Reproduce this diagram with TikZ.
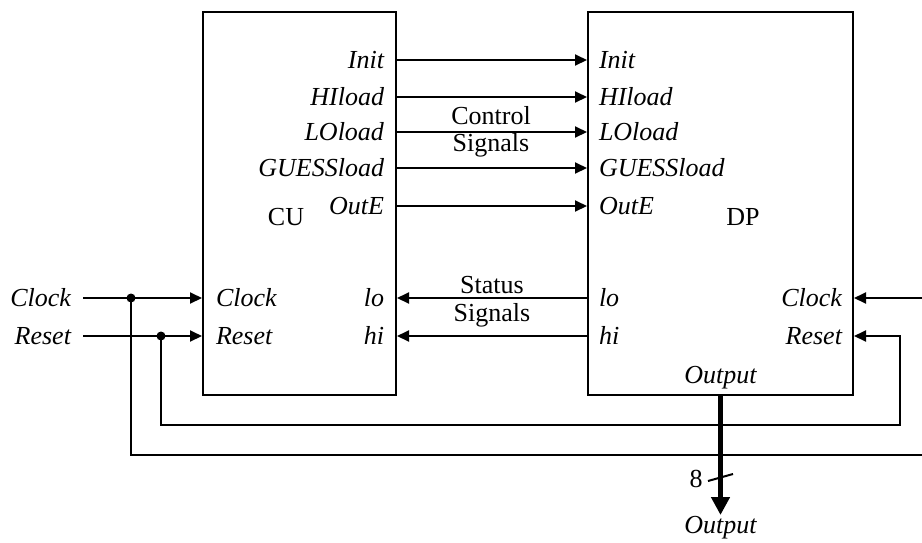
\documentclass[tikz,border=0pt]{standalone}
\usepackage{fontspec}
\setmainfont{Liberation Serif}
\usetikzlibrary{arrows.meta}
\begin{document}
\begin{tikzpicture}[x=1pt,y=-1pt,line width=2pt,
  lbl/.style={font=\fontsize{26}{30}\selectfont\itshape,inner sep=0pt},
  txt/.style={font=\fontsize{26}{30}\selectfont,inner sep=0pt},
  arr/.style={-{Triangle[length=12pt,width=11pt]}},
  blk/.style={draw,line width=2pt,inner sep=0pt,minimum height=383pt}]
\useasboundingbox (0,0) rectangle (922,542);
\clip (0,0) rectangle (922,542);
% blocks
\node[blk,minimum width=193pt] (cu) at (299.5,203.5) {};
\node[blk,minimum width=265pt] (dp) at (720.5,203.5) {};
\node[txt,anchor=base] (cuname) at (286,225) {CU};
\node[txt,anchor=base] (dpname) at (743,225) {DP};
% control signals
\foreach \n/\t/\y in {a/Init/60,b/HIload/97,c/LOload/132,d/GUESSload/168,e/OutE/206}{
  \node[lbl,anchor=base east] (cu\n) at (385,\y+8.5) {\t};
  \node[lbl,anchor=base west] (dp\n) at (598,\y+8.5) {\t};
  \draw[arr] (cu.east |- 0,\y) -- (dp.west |- 0,\y);
}
\node[txt,anchor=base] (ctl1) at (491,124.5) {Control};
\node[txt,anchor=base] (ctl2) at (491,151.5) {Signals};
% status signals
\foreach \n/\t/\y in {lo/lo/298,hi/hi/336}{
  \node[lbl,anchor=base east] (cu\n) at (385,\y+8.5) {\t};
  \node[lbl,anchor=base west] (dp\n) at (598,\y+8.5) {\t};
  \draw[arr] (dp.west |- 0,\y) -- (cu.east |- 0,\y);
}
\node[txt,anchor=base] (st1) at (492,293) {Status};
\node[txt,anchor=base] (st2) at (492,321) {Signals};
% clock and reset
\node[lbl,anchor=base east] (clkL) at (72,306.5) {Clock};
\node[lbl,anchor=base east] (rstL) at (72,344.5) {Reset};
\node[lbl,anchor=base west] (cuclk) at (215,306.5) {Clock};
\node[lbl,anchor=base west] (curst) at (215,344.5) {Reset};
\node[lbl,anchor=base east] (dpclk) at (843,306.5) {Clock};
\node[lbl,anchor=base east] (dprst) at (843,344.5) {Reset};
\coordinate (clkin) at (83,298);
\coordinate (rstin) at (83,336);
\coordinate (clkdot) at (131,298);
\coordinate (rstdot) at (161,336);
\draw[arr] (clkin) -- (cu.west |- clkin);
\draw[arr] (rstin) -- (cu.west |- rstin);
\fill (clkdot) circle (4.5pt);
\fill (rstdot) circle (4.5pt);
\draw[arr] (clkdot) |- (945,455) |- (dp.east |- clkin);
\draw[arr] (rstdot) |- (900,425) |- (dp.east |- rstin);
% output bus
\node[lbl,anchor=base] (dpout) at (720.5,383) {Output};
\coordinate (outend) at (720.5,515);
\draw[line width=5pt,-{Triangle[length=18pt,width=18pt]}] (dp.south) -- (outend);
\draw (708,481) -- (733,474);
\node[txt] (bw) at (696,479) {8};
\node[lbl,anchor=base] (outL) at (720.5,533) {Output};
\end{tikzpicture}
\end{document}
